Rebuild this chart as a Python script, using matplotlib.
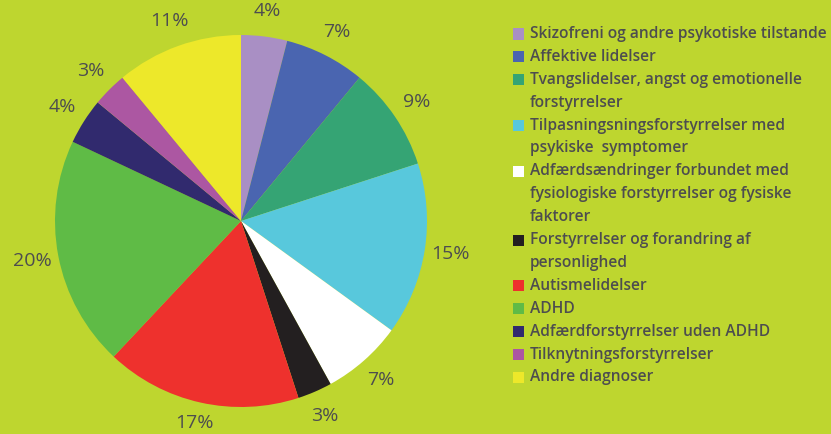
import matplotlib
matplotlib.use("Agg")
import matplotlib.pyplot as plt
from matplotlib.patches import Rectangle

categories = [
    "Skizofreni og andre psykotiske tilstande",
    "Affektive lidelser",
    "Tvangslidelser, angst og emotionelle\nforstyrrelser",
    "Tilpasningsningsforstyrrelser med\npsykiske  symptomer",
    "Adfærdsændringer forbundet med\nfysiologiske forstyrrelser og fysiske\nfaktorer",
    "Forstyrrelser og forandring af\npersonlighed",
    "Autismelidelser",
    "ADHD",
    "Adfærdforstyrrelser uden ADHD",
    "Tilknytningsforstyrrelser",
    "Andre diagnoser",
]
values = [4, 7, 9, 15, 7, 3, 17, 20, 4, 3, 11]
colors = ["#a98fc4", "#4a65b0", "#35a474", "#58c8dc", "#ffffff", "#231f20",
          "#ee312d", "#5fbb46", "#312a6e", "#ac57a2", "#ede82a"]

BG = "#bed62f"
TXT = "#4d4d4f"
W, H = 831, 434
FONT = ["Open Sans", "DejaVu Sans"]

fig = plt.figure(figsize=(W / 100, H / 100), dpi=100, facecolor=BG)
cx, cy, r = 241, 221, 186
ax = fig.add_axes([(cx - r) / W, (H - cy - r) / H, 2 * r / W, 2 * r / H])
ax.set_facecolor(BG)
wedges, texts = ax.pie(values, colors=colors, startangle=90, counterclock=False,
                       labels=[f"{v}%" for v in values], labeldistance=1.14,
                       wedgeprops=dict(linewidth=0),
                       textprops=dict(color=TXT, fontsize=14, family=FONT))
ax.set_xlim(-1, 1)
ax.set_ylim(-1, 1)
ax.axis("off")

# keep labels inside the canvas
fig.canvas.draw()
inv = ax.transData.inverted()
for t in texts:
    t.set_horizontalalignment("center")
    t.set_verticalalignment("center")
    x, y = t.get_position()
    px, py = ax.transData.transform((x, y))
    if py < 11:
        py = 11
        t.set_position(inv.transform((px, py)))

# legend
line_h = 22.9
y = 34
sq = 11
for lab, col in zip(categories, colors):
    fig.patches.append(Rectangle((513 / W, (H - y - sq / 2) / H), sq / W, sq / H,
                                 transform=fig.transFigure, facecolor=col,
                                 edgecolor="none"))
    for line in lab.split("\n"):
        fig.text(530 / W, (H - y) / H, line, color=TXT, fontsize=11.2,
                 family=FONT, weight="semibold", va="center", ha="left")
        y += line_h

fig.savefig("out.png", dpi=100, facecolor=BG)
